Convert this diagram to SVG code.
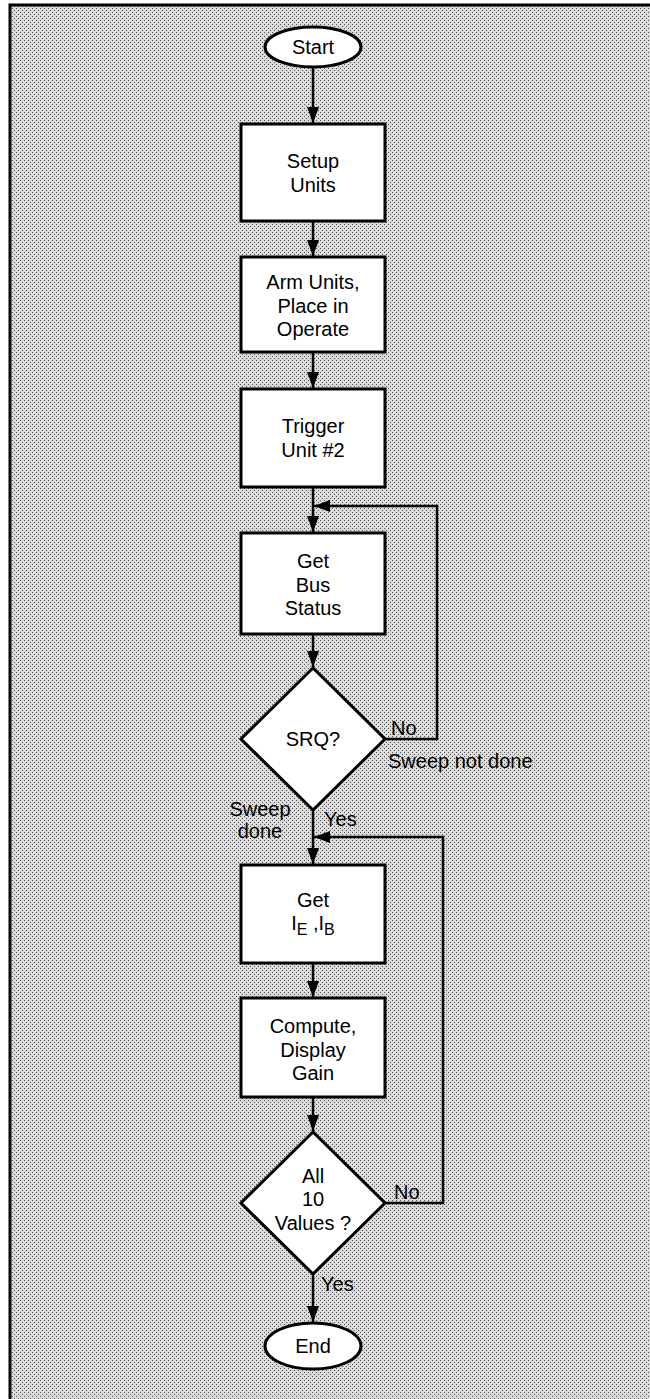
<svg xmlns="http://www.w3.org/2000/svg" width="650" height="1399" viewBox="0 0 650 1399">
<defs>
<pattern id="stipple" width="4" height="4" patternUnits="userSpaceOnUse">
<rect width="4" height="4" fill="#dadada"/>
<rect x="0" y="0" width="1" height="1" fill="#555"/>
<rect x="2" y="2" width="1" height="1" fill="#555"/>
</pattern>
<marker id="arr" markerUnits="userSpaceOnUse" markerWidth="17" markerHeight="12" refX="16" refY="6" orient="auto">
<path d="M0,0 L16,6 L0,12 Z" fill="#000"/>
</marker>
</defs>
<style>
.node{fill:#fff;stroke:#000;stroke-width:3}
.t{font-family:"Liberation Sans",Arial,Helvetica,sans-serif;font-size:20px;fill:#000;text-anchor:middle}
.l{font-family:"Liberation Sans",Arial,Helvetica,sans-serif;font-size:20px;fill:#000}
.c{fill:none;stroke:#000;stroke-width:2.5;marker-end:url(#arr)}
</style>
<rect width="650" height="1399" fill="#fff"/>
<rect x="10" y="5" width="640" height="1394" fill="url(#stipple)"/>
<path d="M10,1399 L10,5 L650,5" fill="none" stroke="#000" stroke-width="3"/>

<g id="connectors">
<line class="c" x1="313" y1="67" x2="313" y2="123"/>
<line class="c" x1="313" y1="221" x2="313" y2="256"/>
<line class="c" x1="313" y1="352" x2="313" y2="388"/>
<line class="c" x1="313" y1="487" x2="313" y2="532"/>
<line class="c" x1="313" y1="634" x2="313" y2="667"/>
<polyline class="c" points="385,739 437,739 437,506 314,506"/>
<line class="c" x1="313" y1="810" x2="313" y2="864"/>
<line class="c" x1="313" y1="963" x2="313" y2="997"/>
<line class="c" x1="313" y1="1097" x2="313" y2="1131"/>
<polyline class="c" points="385,1203 443,1203 443,837 314,837"/>
<line class="c" x1="313" y1="1274" x2="313" y2="1322"/>
<text class="l" x="391" y="735">No</text>
<text class="l" x="388" y="768">Sweep not done</text>
<text class="t" x="260" y="816">Sweep</text>
<text class="t" x="260" y="838">done</text>
<text class="l" x="324" y="826">Yes</text>
<text class="l" x="394" y="1199">No</text>
<text class="l" x="321" y="1291">Yes</text>
</g>

<g id="start">
<ellipse class="node" cx="313" cy="47" rx="48" ry="20"/>
<text class="t" x="313" y="54">Start</text>
</g>
<g id="setup">
<rect class="node" x="241" y="124" width="144" height="97"/>
<text class="t" x="313" y="168">Setup</text>
<text class="t" x="313" y="192">Units</text>
</g>
<g id="arm">
<rect class="node" x="241" y="257" width="144" height="95"/>
<text class="t" x="313" y="289">Arm Units,</text>
<text class="t" x="313" y="312.5">Place in</text>
<text class="t" x="313" y="336">Operate</text>
</g>
<g id="trigger">
<rect class="node" x="241" y="389" width="144" height="98"/>
<text class="t" x="313" y="433">Trigger</text>
<text class="t" x="313" y="457">Unit #2</text>
</g>
<g id="getbus">
<rect class="node" x="241" y="533" width="144" height="101"/>
<text class="t" x="313" y="568">Get</text>
<text class="t" x="313" y="591.5">Bus</text>
<text class="t" x="313" y="615">Status</text>
</g>
<g id="srq">
<polygon class="node" points="313,668 385,739 313,810 241,739"/>
<text class="t" x="313" y="746">SRQ?</text>
</g>
<g id="getie">
<rect class="node" x="241" y="865" width="144" height="98"/>
<text class="t" x="313" y="907">Get</text>
<text class="t" x="313" y="930">I<tspan font-size="16" dy="5">E</tspan><tspan dy="-5"> ,I</tspan><tspan font-size="16" dy="5">B</tspan></text>
</g>
<g id="compute">
<rect class="node" x="241" y="998" width="144" height="99"/>
<text class="t" x="313" y="1033">Compute,</text>
<text class="t" x="313" y="1057">Display</text>
<text class="t" x="313" y="1080">Gain</text>
</g>
<g id="all10">
<polygon class="node" points="313,1132 385,1203 313,1274 241,1203"/>
<text class="t" x="313" y="1183">All</text>
<text class="t" x="313" y="1206">10</text>
<text class="t" x="313" y="1230">Values ?</text>
</g>
<g id="end">
<ellipse class="node" cx="313" cy="1346" rx="48" ry="23"/>
<text class="t" x="313" y="1353">End</text>
</g>
</svg>
